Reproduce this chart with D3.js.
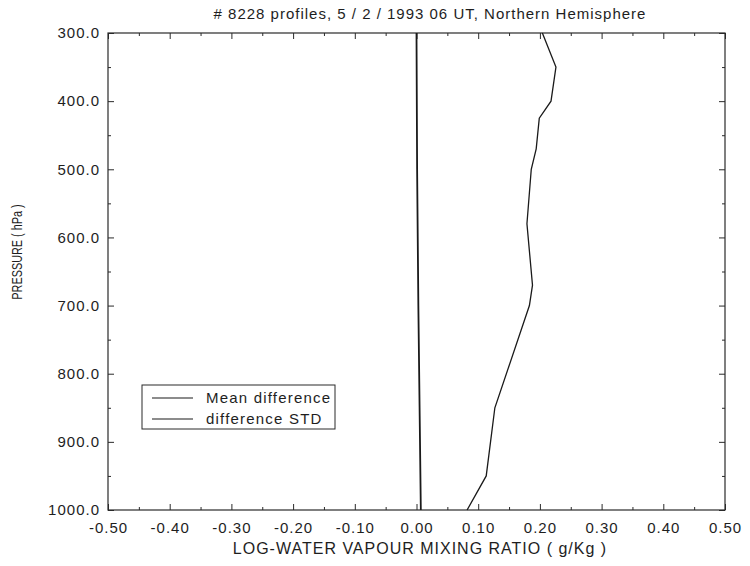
<!DOCTYPE html>
<html>
<head>
<meta charset="utf-8">
<script src="https://cdn.jsdelivr.net/npm/d3@7"></script>
<style>
    body { margin: 0; background: #fff; }
    svg { font-family: "Liberation Sans", Arial, sans-serif; }
    .axes line { stroke: #2a2a2a; stroke-width: 1; }
    .axes text { font-size: 15px; fill: #1e1e1e; letter-spacing: 1px; }
    .label { font-size: 15px; fill: #1e1e1e; }
    .line { fill: none; stroke: #1a1a1a; }
</style>
</head>
<body>
<script>
(function () {

    'use strict'

    // pressure levels (hPa) and values
    const stdPressure = [300, 350, 400, 425, 470, 500, 580, 670, 700, 850, 950, 1000]
    const stdValues = [0.204, 0.226, 0.218, 0.199, 0.194, 0.186, 0.179, 0.188, 0.183, 0.127, 0.113, 0.082]

    const meanPressure = [300, 500, 700, 850, 1000]
    const meanValues = [0.000, 0.001, 0.003, 0.005, 0.007]

    const xTicks = [-0.5, -0.4, -0.3, -0.2, -0.1, 0, 0.1, 0.2, 0.3, 0.4, 0.5]
    const xMinorTicks = [-0.45, -0.35, -0.25, -0.15, -0.05, 0.05, 0.15, 0.25, 0.35, 0.45]
    const yTicks = [300, 400, 500, 600, 700, 800, 900, 1000]
    const yMinorTicks = [350, 450, 550, 650, 750, 850, 950]

    const legendLabels = ['Mean difference', 'difference STD']

    const width = 750
        , height = 566
        , margin = { top: 33, right: 25, bottom: 56, left: 108 }

    const svg = d3.select('body')
        .append('svg')
        .attr('width', width)
        .attr('height', height)

    const xScale = d3.scaleLinear()
        .domain([-0.5, 0.5])
        .range([margin.left, width - margin.right])

    const yScale = d3.scaleLinear()
        .domain([300, 1000])
        .range([margin.top, height - margin.bottom])

    const x0 = margin.left, x1 = width - margin.right
    const y0 = margin.top, y1 = height - margin.bottom

    // ticks on all four sides, pointing into the plot
    function addAxis(axis, tx, ty) {
        const g = svg.append('g')
            .attr('class', 'axes')
            .attr('transform', 'translate(' + tx + ',' + ty + ')')
            .call(axis)
        g.select('.domain').remove()
        return g
    }

    addAxis(d3.axisBottom(xScale).tickValues(xTicks).tickSize(-6).tickPadding(12).tickFormat(d => d.toFixed(2)), 0, y1)
    addAxis(d3.axisBottom(xScale).tickValues(xMinorTicks).tickSize(-3).tickFormat(''), 0, y1)
    addAxis(d3.axisTop(xScale).tickValues(xTicks).tickSize(-6).tickFormat(''), 0, y0)
    addAxis(d3.axisTop(xScale).tickValues(xMinorTicks).tickSize(-3).tickFormat(''), 0, y0)

    addAxis(d3.axisLeft(yScale).tickValues(yTicks).tickSize(-6).tickPadding(8).tickFormat(d => d.toFixed(1)), x0, 0)
    addAxis(d3.axisLeft(yScale).tickValues(yMinorTicks).tickSize(-3).tickFormat(''), x0, 0)
    addAxis(d3.axisRight(yScale).tickValues(yTicks).tickSize(-6).tickFormat(''), x1, 0)
    addAxis(d3.axisRight(yScale).tickValues(yMinorTicks).tickSize(-3).tickFormat(''), x1, 0)

    // plot frame
    svg.append('rect')
        .attr('x', x0)
        .attr('y', y0)
        .attr('width', x1 - x0)
        .attr('height', y1 - y0)
        .attr('fill', 'none')
        .attr('stroke', '#2a2a2a')
        .attr('stroke-width', 1.2)

    const line = d3.line()
        .x(d => xScale(d[1]))
        .y(d => yScale(d[0]))

    // mean difference
    svg.append('path')
        .datum(d3.zip(meanPressure, meanValues))
        .attr('class', 'line')
        .attr('stroke-width', 1.8)
        .attr('d', line)

    // difference STD
    svg.append('path')
        .datum(d3.zip(stdPressure, stdValues))
        .attr('class', 'line')
        .attr('stroke-width', 1.3)
        .attr('d', line)

    // legend
    const legend = svg.append('g')
        .attr('transform', 'translate(142,385)')
    legend.append('rect')
        .attr('width', 193)
        .attr('height', 44)
        .attr('fill', '#fff')
        .attr('stroke', '#2a2a2a')
        .attr('stroke-width', 1)
    legendLabels.forEach((name, i) => {
        legend.append('line')
            .attr('x1', 10).attr('x2', 51)
            .attr('y1', 13 + i * 21).attr('y2', 13 + i * 21)
            .attr('stroke', '#1a1a1a')
            .attr('stroke-width', 1.2)
        legend.append('text')
            .attr('class', 'label')
            .attr('x', 64)
            .attr('y', 13 + i * 21)
            .attr('dy', '0.35em')
            .style('letter-spacing', '1.2px')
            .text(name)
    })

    // title and axis labels
    svg.append('text')
        .attr('class', 'label')
        .attr('x', 430)
        .attr('y', 19)
        .attr('text-anchor', 'middle')
        .style('letter-spacing', '1px')
        .text('# 8228 profiles, 5 / 2 / 1993 06 UT, Northern Hemisphere')

    svg.append('text')
        .attr('class', 'label')
        .attr('x', 420)
        .attr('y', 554)
        .attr('text-anchor', 'middle')
        .style('font-size', '16px')
        .style('letter-spacing', '1px')
        .text('LOG-WATER VAPOUR MIXING RATIO ( g/Kg )')

    // the scan squeezes the rotated label along its length
    svg.append('text')
        .attr('class', 'label')
        .attr('text-anchor', 'middle')
        .attr('transform', 'translate(22,252) rotate(-90) scale(0.75,1)')
        .style('font-size', '14.5px')
        .text('PRESSURE ( hPa )')
})()
</script>
</body>
</html>
